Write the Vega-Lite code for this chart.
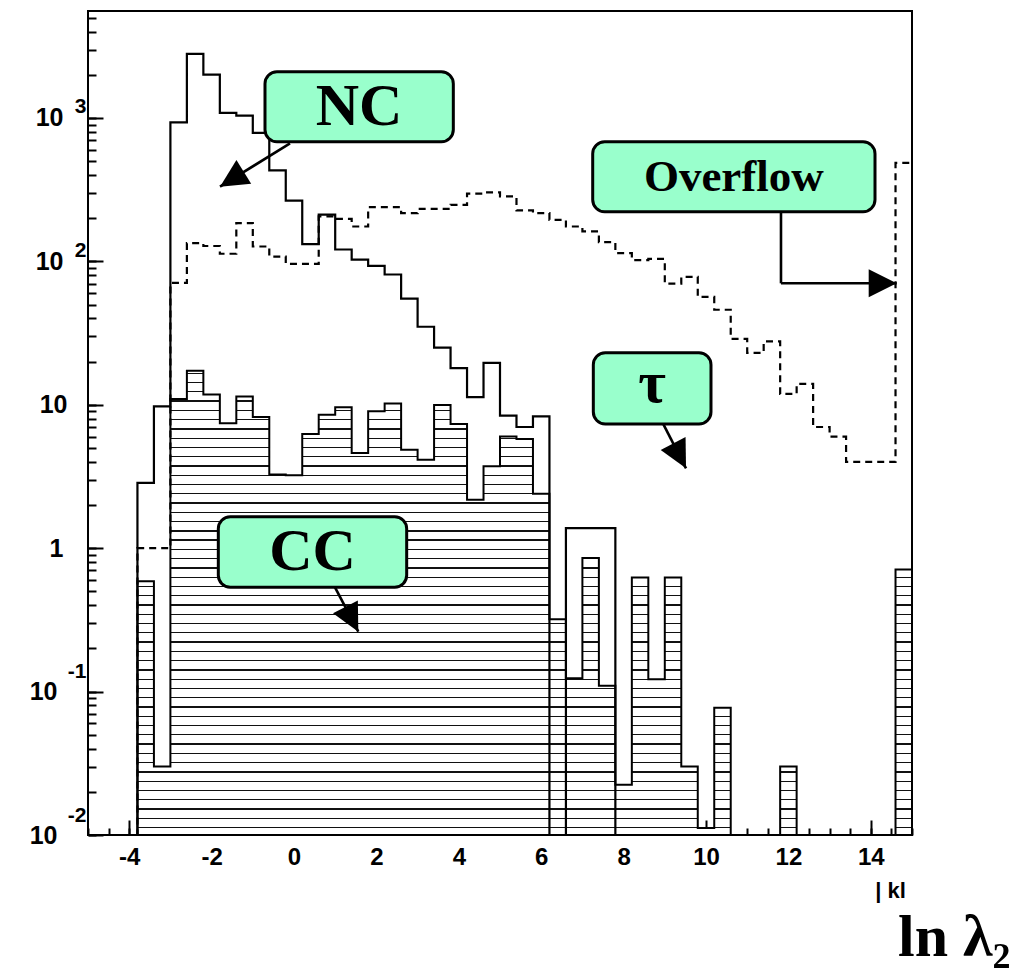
{
  "$schema": "https://vega.github.io/schema/vega-lite/v6.json",
  "width": 824,
  "height": 824,
  "autosize": {"type": "none"},
  "padding": {"left": 88, "top": 11, "right": 117, "bottom": 133},
  "background": "white",
  "config": {
    "view": {"stroke": "black", "strokeWidth": 2},
    "axis": {"labelColor": "black", "tickColor": "black", "titleColor": "black", "grid": false, "domain": false, "labelFlush": false, "labelOverlap": false}
  },
  "datasets": {
    "hist": [
      {"lo": -5.0, "nc": 0, "tau": 0, "cc": 0},
      {"lo": -4.6, "nc": 0, "tau": 0, "cc": 0},
      {"lo": -4.2, "nc": 0, "tau": 0, "cc": 0},
      {"lo": -3.8, "nc": 2.85, "tau": 1.0, "cc": 0.588},
      {"lo": -3.4, "nc": 9.75, "tau": 1.0, "cc": 0.030},
      {"lo": -3.0, "nc": 931, "tau": 70.7, "cc": 10.97},
      {"lo": -2.6, "nc": 2795, "tau": 134, "cc": 17.3},
      {"lo": -2.2, "nc": 2004, "tau": 128, "cc": 11.8},
      {"lo": -1.8, "nc": 1084, "tau": 113, "cc": 7.42},
      {"lo": -1.4, "nc": 1038, "tau": 185, "cc": 11.4},
      {"lo": -1.0, "nc": 786, "tau": 127, "cc": 8.22},
      {"lo": -0.6, "nc": 431, "tau": 108, "cc": 3.26},
      {"lo": -0.2, "nc": 265, "tau": 96, "cc": 3.22},
      {"lo": 0.2, "nc": 132, "tau": 96, "cc": 6.26},
      {"lo": 0.6, "nc": 212, "tau": 206, "cc": 8.53},
      {"lo": 1.0, "nc": 121, "tau": 198, "cc": 9.6},
      {"lo": 1.4, "nc": 103, "tau": 175, "cc": 4.61},
      {"lo": 1.8, "nc": 93, "tau": 239, "cc": 9.0},
      {"lo": 2.2, "nc": 81, "tau": 239, "cc": 10.2},
      {"lo": 2.6, "nc": 55, "tau": 217, "cc": 4.86},
      {"lo": 3.0, "nc": 35, "tau": 232, "cc": 4.14},
      {"lo": 3.4, "nc": 25, "tau": 232, "cc": 9.97},
      {"lo": 3.8, "nc": 18, "tau": 248, "cc": 7.35},
      {"lo": 4.2, "nc": 11.3, "tau": 297, "cc": 2.18},
      {"lo": 4.6, "nc": 19.6, "tau": 303, "cc": 3.72},
      {"lo": 5.0, "nc": 8.4, "tau": 284, "cc": 6.02},
      {"lo": 5.4, "nc": 7.0, "tau": 227, "cc": 5.78},
      {"lo": 5.8, "nc": 8.3, "tau": 217, "cc": 2.40},
      {"lo": 6.2, "nc": 0, "tau": 195, "cc": 0.32},
      {"lo": 6.6, "nc": 1.38, "tau": 175, "cc": 0.124},
      {"lo": 7.0, "nc": 1.38, "tau": 162, "cc": 0.855},
      {"lo": 7.4, "nc": 1.38, "tau": 136, "cc": 0.11},
      {"lo": 7.8, "nc": 0, "tau": 114, "cc": 0.0224},
      {"lo": 8.2, "nc": 0, "tau": 102, "cc": 0.625},
      {"lo": 8.6, "nc": 0, "tau": 104, "cc": 0.122},
      {"lo": 9.0, "nc": 0, "tau": 70, "cc": 0.625},
      {"lo": 9.4, "nc": 0, "tau": 78, "cc": 0.030},
      {"lo": 9.8, "nc": 0, "tau": 56.5, "cc": 0.0112},
      {"lo": 10.2, "nc": 0, "tau": 46, "cc": 0.077},
      {"lo": 10.6, "nc": 0, "tau": 28.8, "cc": 0},
      {"lo": 11.0, "nc": 0, "tau": 23.0, "cc": 0},
      {"lo": 11.4, "nc": 0, "tau": 27.7, "cc": 0},
      {"lo": 11.8, "nc": 0, "tau": 11.9, "cc": 0.030},
      {"lo": 12.2, "nc": 0, "tau": 14.0, "cc": 0},
      {"lo": 12.6, "nc": 0, "tau": 7.0, "cc": 0},
      {"lo": 13.0, "nc": 0, "tau": 6.0, "cc": 0},
      {"lo": 13.4, "nc": 0, "tau": 4.0, "cc": 0},
      {"lo": 13.8, "nc": 0, "tau": 4.0, "cc": 0},
      {"lo": 14.2, "nc": 0, "tau": 4.0, "cc": 0},
      {"lo": 14.6, "nc": 0, "tau": 486, "cc": 0.71},
      {"lo": 15.0, "nc": 0, "tau": 486, "cc": 0.71}
    ],
    "boxes": [
      {"label": "NC", "x1": -0.704, "x2": 3.867, "y1": 683, "y2": 2101, "cx": 1.58, "cy": 1198},
      {"label": "Overflow", "x1": 7.25, "x2": 14.102, "y1": 221.9, "y2": 683, "cx": 10.676, "cy": 389.3},
      {"label": "τ", "x1": 7.265, "x2": 10.121, "y1": 7.34, "y2": 23.07, "cx": 8.693, "cy": 13.9},
      {"label": "CC", "x1": -1.837, "x2": 2.735, "y1": 0.5336, "y2": 1.658, "cx": 0.449, "cy": 0.9406}
    ],
    "arrows": [
      {"label": "NC", "x1": -0.097, "y1": 665.8, "x2": -1.796, "y2": 331.6},
      {"label": "Overflow", "x1": 11.82, "y1": 221.9, "x2": 11.82, "y2": 70.3},
      {"label": "Overflow", "x1": 11.82, "y1": 70.3, "x2": 14.629, "y2": 70.3},
      {"label": "τ", "x1": 8.964, "y1": 7.34, "x2": 9.515, "y2": 3.606},
      {"label": "CC", "x1": 0.995, "y1": 0.5336, "x2": 1.561, "y2": 0.2616}
    ],
    "heads": [
      {"label": "NC", "x": -1.796, "y": 331.6},
      {"label": "Overflow", "x": 14.629, "y": 70.3},
      {"label": "τ", "x": 9.515, "y": 3.606},
      {"label": "CC", "x": 1.561, "y": 0.2616}
    ]
  },
  "resolve": {"axis": {"x": "independent", "y": "independent"}},
  "layer": [
    {
      "data": {"name": "hist"},
      "mark": {
        "type": "area",
        "interpolate": "step-after",
        "stroke": "black",
        "strokeWidth": 2,
        "fill": {
          "gradient": "linear", "x1": 0, "y1": 0, "x2": 0, "y2": 1,
          "stops": [
            {"offset": 0, "color": "#fff"},
            {"offset": 0.00426, "color": "#fff"}, {"offset": 0.00426, "color": "#111"}, {"offset": 0.00706, "color": "#111"}, {"offset": 0.00706, "color": "#fff"},
            {"offset": 0.02423, "color": "#fff"}, {"offset": 0.02423, "color": "#111"}, {"offset": 0.02703, "color": "#111"}, {"offset": 0.02703, "color": "#fff"},
            {"offset": 0.04419, "color": "#fff"}, {"offset": 0.04419, "color": "#111"}, {"offset": 0.04699, "color": "#111"}, {"offset": 0.04699, "color": "#fff"},
            {"offset": 0.06415, "color": "#fff"}, {"offset": 0.06415, "color": "#111"}, {"offset": 0.06695, "color": "#111"}, {"offset": 0.06695, "color": "#fff"},
            {"offset": 0.08412, "color": "#fff"}, {"offset": 0.08412, "color": "#111"}, {"offset": 0.08692, "color": "#111"}, {"offset": 0.08692, "color": "#fff"},
            {"offset": 0.10408, "color": "#fff"}, {"offset": 0.10408, "color": "#111"}, {"offset": 0.10688, "color": "#111"}, {"offset": 0.10688, "color": "#fff"},
            {"offset": 0.12404, "color": "#fff"}, {"offset": 0.12404, "color": "#111"}, {"offset": 0.12684, "color": "#111"}, {"offset": 0.12684, "color": "#fff"},
            {"offset": 0.14400, "color": "#fff"}, {"offset": 0.14400, "color": "#111"}, {"offset": 0.14680, "color": "#111"}, {"offset": 0.14680, "color": "#fff"},
            {"offset": 0.16397, "color": "#fff"}, {"offset": 0.16397, "color": "#111"}, {"offset": 0.16677, "color": "#111"}, {"offset": 0.16677, "color": "#fff"},
            {"offset": 0.18393, "color": "#fff"}, {"offset": 0.18393, "color": "#111"}, {"offset": 0.18673, "color": "#111"}, {"offset": 0.18673, "color": "#fff"},
            {"offset": 0.20389, "color": "#fff"}, {"offset": 0.20389, "color": "#111"}, {"offset": 0.20669, "color": "#111"}, {"offset": 0.20669, "color": "#fff"},
            {"offset": 0.22386, "color": "#fff"}, {"offset": 0.22386, "color": "#111"}, {"offset": 0.22666, "color": "#111"}, {"offset": 0.22666, "color": "#fff"},
            {"offset": 0.24382, "color": "#fff"}, {"offset": 0.24382, "color": "#111"}, {"offset": 0.24662, "color": "#111"}, {"offset": 0.24662, "color": "#fff"},
            {"offset": 0.26378, "color": "#fff"}, {"offset": 0.26378, "color": "#111"}, {"offset": 0.26658, "color": "#111"}, {"offset": 0.26658, "color": "#fff"},
            {"offset": 0.28375, "color": "#fff"}, {"offset": 0.28375, "color": "#111"}, {"offset": 0.28655, "color": "#111"}, {"offset": 0.28655, "color": "#fff"},
            {"offset": 0.30371, "color": "#fff"}, {"offset": 0.30371, "color": "#111"}, {"offset": 0.30651, "color": "#111"}, {"offset": 0.30651, "color": "#fff"},
            {"offset": 0.32367, "color": "#fff"}, {"offset": 0.32367, "color": "#111"}, {"offset": 0.32647, "color": "#111"}, {"offset": 0.32647, "color": "#fff"},
            {"offset": 0.34363, "color": "#fff"}, {"offset": 0.34363, "color": "#111"}, {"offset": 0.34643, "color": "#111"}, {"offset": 0.34643, "color": "#fff"},
            {"offset": 0.36360, "color": "#fff"}, {"offset": 0.36360, "color": "#111"}, {"offset": 0.36640, "color": "#111"}, {"offset": 0.36640, "color": "#fff"},
            {"offset": 0.38356, "color": "#fff"}, {"offset": 0.38356, "color": "#111"}, {"offset": 0.38636, "color": "#111"}, {"offset": 0.38636, "color": "#fff"},
            {"offset": 0.40352, "color": "#fff"}, {"offset": 0.40352, "color": "#111"}, {"offset": 0.40632, "color": "#111"}, {"offset": 0.40632, "color": "#fff"},
            {"offset": 0.42349, "color": "#fff"}, {"offset": 0.42349, "color": "#111"}, {"offset": 0.42629, "color": "#111"}, {"offset": 0.42629, "color": "#fff"},
            {"offset": 0.44345, "color": "#fff"}, {"offset": 0.44345, "color": "#111"}, {"offset": 0.44625, "color": "#111"}, {"offset": 0.44625, "color": "#fff"},
            {"offset": 0.46341, "color": "#fff"}, {"offset": 0.46341, "color": "#111"}, {"offset": 0.46621, "color": "#111"}, {"offset": 0.46621, "color": "#fff"},
            {"offset": 0.48338, "color": "#fff"}, {"offset": 0.48338, "color": "#111"}, {"offset": 0.48618, "color": "#111"}, {"offset": 0.48618, "color": "#fff"},
            {"offset": 0.50334, "color": "#fff"}, {"offset": 0.50334, "color": "#111"}, {"offset": 0.50614, "color": "#111"}, {"offset": 0.50614, "color": "#fff"},
            {"offset": 0.52330, "color": "#fff"}, {"offset": 0.52330, "color": "#111"}, {"offset": 0.52610, "color": "#111"}, {"offset": 0.52610, "color": "#fff"},
            {"offset": 0.54326, "color": "#fff"}, {"offset": 0.54326, "color": "#111"}, {"offset": 0.54606, "color": "#111"}, {"offset": 0.54606, "color": "#fff"},
            {"offset": 0.56323, "color": "#fff"}, {"offset": 0.56323, "color": "#111"}, {"offset": 0.56603, "color": "#111"}, {"offset": 0.56603, "color": "#fff"},
            {"offset": 0.58319, "color": "#fff"}, {"offset": 0.58319, "color": "#111"}, {"offset": 0.58599, "color": "#111"}, {"offset": 0.58599, "color": "#fff"},
            {"offset": 0.60315, "color": "#fff"}, {"offset": 0.60315, "color": "#111"}, {"offset": 0.60595, "color": "#111"}, {"offset": 0.60595, "color": "#fff"},
            {"offset": 0.62312, "color": "#fff"}, {"offset": 0.62312, "color": "#111"}, {"offset": 0.62592, "color": "#111"}, {"offset": 0.62592, "color": "#fff"},
            {"offset": 0.64308, "color": "#fff"}, {"offset": 0.64308, "color": "#111"}, {"offset": 0.64588, "color": "#111"}, {"offset": 0.64588, "color": "#fff"},
            {"offset": 0.66304, "color": "#fff"}, {"offset": 0.66304, "color": "#111"}, {"offset": 0.66584, "color": "#111"}, {"offset": 0.66584, "color": "#fff"},
            {"offset": 0.68301, "color": "#fff"}, {"offset": 0.68301, "color": "#111"}, {"offset": 0.68581, "color": "#111"}, {"offset": 0.68581, "color": "#fff"},
            {"offset": 0.70297, "color": "#fff"}, {"offset": 0.70297, "color": "#111"}, {"offset": 0.70577, "color": "#111"}, {"offset": 0.70577, "color": "#fff"},
            {"offset": 0.72293, "color": "#fff"}, {"offset": 0.72293, "color": "#111"}, {"offset": 0.72573, "color": "#111"}, {"offset": 0.72573, "color": "#fff"},
            {"offset": 0.74289, "color": "#fff"}, {"offset": 0.74289, "color": "#111"}, {"offset": 0.74569, "color": "#111"}, {"offset": 0.74569, "color": "#fff"},
            {"offset": 0.76286, "color": "#fff"}, {"offset": 0.76286, "color": "#111"}, {"offset": 0.76566, "color": "#111"}, {"offset": 0.76566, "color": "#fff"},
            {"offset": 0.78282, "color": "#fff"}, {"offset": 0.78282, "color": "#111"}, {"offset": 0.78562, "color": "#111"}, {"offset": 0.78562, "color": "#fff"},
            {"offset": 0.80278, "color": "#fff"}, {"offset": 0.80278, "color": "#111"}, {"offset": 0.80558, "color": "#111"}, {"offset": 0.80558, "color": "#fff"},
            {"offset": 0.82275, "color": "#fff"}, {"offset": 0.82275, "color": "#111"}, {"offset": 0.82555, "color": "#111"}, {"offset": 0.82555, "color": "#fff"},
            {"offset": 0.84271, "color": "#fff"}, {"offset": 0.84271, "color": "#111"}, {"offset": 0.84551, "color": "#111"}, {"offset": 0.84551, "color": "#fff"},
            {"offset": 0.86267, "color": "#fff"}, {"offset": 0.86267, "color": "#111"}, {"offset": 0.86547, "color": "#111"}, {"offset": 0.86547, "color": "#fff"},
            {"offset": 0.88264, "color": "#fff"}, {"offset": 0.88264, "color": "#111"}, {"offset": 0.88544, "color": "#111"}, {"offset": 0.88544, "color": "#fff"},
            {"offset": 0.90260, "color": "#fff"}, {"offset": 0.90260, "color": "#111"}, {"offset": 0.90540, "color": "#111"}, {"offset": 0.90540, "color": "#fff"},
            {"offset": 0.92256, "color": "#fff"}, {"offset": 0.92256, "color": "#111"}, {"offset": 0.92536, "color": "#111"}, {"offset": 0.92536, "color": "#fff"},
            {"offset": 0.94252, "color": "#fff"}, {"offset": 0.94252, "color": "#111"}, {"offset": 0.94532, "color": "#111"}, {"offset": 0.94532, "color": "#fff"},
            {"offset": 0.96249, "color": "#fff"}, {"offset": 0.96249, "color": "#111"}, {"offset": 0.96529, "color": "#111"}, {"offset": 0.96529, "color": "#fff"},
            {"offset": 0.98245, "color": "#fff"}, {"offset": 0.98245, "color": "#111"}, {"offset": 0.98525, "color": "#111"}, {"offset": 0.98525, "color": "#fff"},
            {"offset": 1, "color": "#fff"}
          ]
        }
      },
      "encoding": {
        "x": {
          "field": "lo", "type": "quantitative",
          "scale": {"domain": [-5, 15], "nice": false, "zero": false},
          "axis": {
            "orient": "bottom",
            "values": [-5, -4.5, -4, -3.5, -3, -2.5, -2, -1.5, -1, -0.5, 0, 0.5, 1, 1.5, 2, 2.5, 3, 3.5, 4, 4.5, 5, 5.5, 6, 6.5, 7, 7.5, 8, 8.5, 9, 9.5, 10, 10.5, 11, 11.5, 12, 12.5, 13, 13.5, 14, 14.5, 15],
            "tickSize": -7, "tickWidth": 2, "labels": false,
            "title": "| kl", "titleFont": "Liberation Sans", "titleFontWeight": "bold", "titleFontSize": 22,
            "titleX": 802, "titleY": 62, "titleAlign": "center", "titleBaseline": "alphabetic"
          }
        },
        "y": {
          "field": "cc", "type": "quantitative",
          "scale": {"type": "log", "domain": [0.01, 5570], "nice": false, "clamp": true},
          "axis": {
            "orient": "left",
            "values": [0.01, 0.02, 0.03, 0.04, 0.05, 0.06, 0.07, 0.08, 0.09, 0.1, 0.2, 0.3, 0.4, 0.5, 0.6, 0.7, 0.8, 0.9, 1, 2, 3, 4, 5, 6, 7, 8, 9, 10, 20, 30, 40, 50, 60, 70, 80, 90, 100, 200, 300, 400, 500, 600, 700, 800, 900, 1000, 2000, 3000, 4000, 5000],
            "tickSize": -8, "tickWidth": 2,
            "labelExpr": "datum.value == 1000 ? '3' : datum.value == 100 ? '2' : datum.value == 0.1 ? '-1' : datum.value == 0.01 ? '-2' : ''",
            "labelFont": "Liberation Sans", "labelFontWeight": "bold", "labelFontSize": 21,
            "labelPadding": 10, "labelBaseline": "middle", "labelAlign": "right",
            "labelOffset": {"condition": {"test": "datum.value < 0.5", "value": -20}, "value": -11},
            "title": null
          }
        },
        "y2": {"datum": 0.01}
      }
    },
    {
      "data": {"name": "hist"},
      "mark": {"type": "line", "interpolate": "step-after", "color": "black", "strokeWidth": 2.2},
      "encoding": {
        "x": {
          "field": "lo", "type": "quantitative",
          "axis": {
            "orient": "bottom",
            "values": [-4, -2, 0, 2, 4, 6, 8, 10, 12, 14],
            "tickSize": -15, "tickWidth": 2,
            "labelExpr": "'' + datum.value",
            "labelFont": "Liberation Sans", "labelFontWeight": "bold", "labelFontSize": 24, "labelPadding": 25,
            "title": "ln λ₂", "titleFont": "Liberation Serif", "titleFontWeight": "bold", "titleFontSize": 60,
            "titleX": 922, "titleY": 120, "titleAlign": "right", "titleBaseline": "alphabetic"
          }
        },
        "y": {
          "field": "nc", "type": "quantitative",
          "axis": {
            "orient": "left",
            "values": [0.01, 0.1, 1, 10, 100, 1000],
            "tickSize": -15, "tickWidth": 2,
            "labelExpr": "datum.value == 1 ? '1' : '10'",
            "labelFont": "Liberation Sans", "labelFontWeight": "bold", "labelFontSize": 25,
            "labelBaseline": "middle", "labelAlign": "right",
            "labelPadding": {"condition": [{"test": "datum.value < 0.5", "value": 46}, {"test": "datum.value == 10", "value": 36}], "value": 40},
            "title": null
          }
        }
      }
    },
    {
      "data": {"name": "hist"},
      "mark": {"type": "line", "interpolate": "step-after", "color": "black", "strokeWidth": 2.2, "strokeDash": [7, 5]},
      "encoding": {
        "x": {"field": "lo", "type": "quantitative", "axis": null},
        "y": {"field": "tau", "type": "quantitative", "axis": null}
      }
    },
    {
      "data": {"name": "boxes"},
      "mark": {"type": "rect", "fill": "#99ffcc", "stroke": "black", "strokeWidth": 3, "cornerRadius": 12},
      "encoding": {
        "x": {"field": "x1", "type": "quantitative", "axis": null},
        "x2": {"field": "x2"},
        "y": {"field": "y1", "type": "quantitative", "axis": null},
        "y2": {"field": "y2"}
      }
    },
    {
      "data": {"name": "boxes"},
      "transform": [{"filter": "datum.label == 'NC' || datum.label == 'CC'"}],
      "mark": {"type": "text", "font": "Liberation Serif", "fontWeight": "bold", "fontSize": 60, "baseline": "middle", "align": "center", "color": "black"},
      "encoding": {
        "x": {"field": "cx", "type": "quantitative", "axis": null},
        "y": {"field": "cy", "type": "quantitative", "axis": null},
        "text": {"field": "label"}
      }
    },
    {
      "data": {"name": "boxes"},
      "transform": [{"filter": "datum.label == 'Overflow'"}],
      "mark": {"type": "text", "font": "Liberation Serif", "fontWeight": "bold", "fontSize": 45, "baseline": "middle", "align": "center", "color": "black"},
      "encoding": {
        "x": {"field": "cx", "type": "quantitative", "axis": null},
        "y": {"field": "cy", "type": "quantitative", "axis": null},
        "text": {"field": "label"}
      }
    },
    {
      "data": {"name": "boxes"},
      "transform": [{"filter": "datum.label == 'τ'"}],
      "mark": {"type": "text", "font": "Liberation Serif", "fontWeight": "bold", "fontSize": 60, "baseline": "middle", "align": "center", "color": "black"},
      "encoding": {
        "x": {"field": "cx", "type": "quantitative", "axis": null},
        "y": {"field": "cy", "type": "quantitative", "axis": null},
        "text": {"field": "label"}
      }
    },
    {
      "data": {"name": "arrows"},
      "mark": {"type": "rule", "color": "black", "strokeWidth": 2.6},
      "encoding": {
        "x": {"field": "x1", "type": "quantitative", "axis": null},
        "y": {"field": "y1", "type": "quantitative", "axis": null},
        "x2": {"field": "x2"},
        "y2": {"field": "y2"}
      }
    },
    {
      "data": {"name": "heads"},
      "transform": [{"filter": "datum.label == 'NC'"}],
      "mark": {"type": "point", "shape": "M0,0L-1,-0.5L-1,0.5Z", "filled": true, "color": "black", "opacity": 1, "size": 3136, "angle": 148.2, "strokeWidth": 0},
      "encoding": {
        "x": {"field": "x", "type": "quantitative", "axis": null},
        "y": {"field": "y", "type": "quantitative", "axis": null}
      }
    },
    {
      "data": {"name": "heads"},
      "transform": [{"filter": "datum.label == 'Overflow'"}],
      "mark": {"type": "point", "shape": "M0,0L-1,-0.5L-1,0.5Z", "filled": true, "color": "black", "opacity": 1, "size": 3136, "angle": 0, "strokeWidth": 0},
      "encoding": {
        "x": {"field": "x", "type": "quantitative", "axis": null},
        "y": {"field": "y", "type": "quantitative", "axis": null}
      }
    },
    {
      "data": {"name": "heads"},
      "transform": [{"filter": "datum.label == 'τ' || datum.label == 'CC'"}],
      "mark": {"type": "point", "shape": "M0,0L-1,-0.5L-1,0.5Z", "filled": true, "color": "black", "opacity": 1, "size": 3136, "angle": 62.6, "strokeWidth": 0},
      "encoding": {
        "x": {"field": "x", "type": "quantitative", "axis": null},
        "y": {"field": "y", "type": "quantitative", "axis": null}
      }
    }
  ]
}
